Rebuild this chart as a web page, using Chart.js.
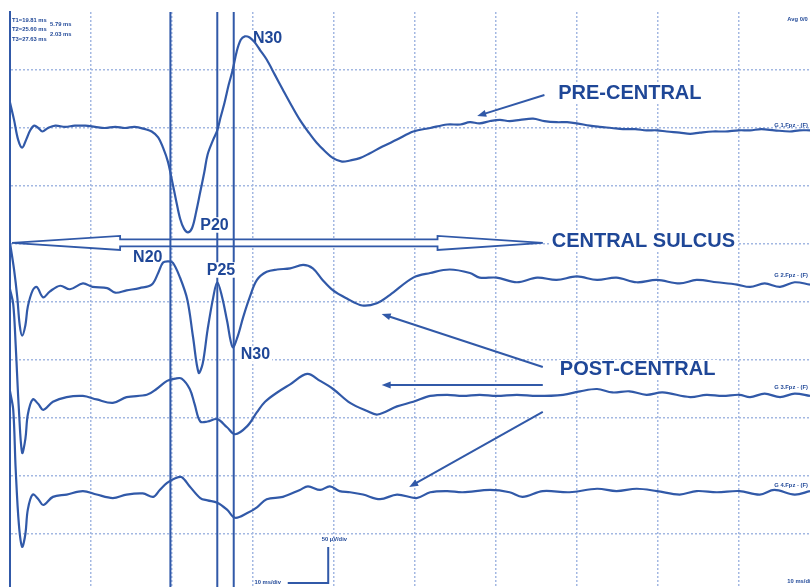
<!DOCTYPE html>
<html>
<head>
<meta charset="utf-8">
<script src="https://cdn.jsdelivr.net/npm/chart.js@4.4.1/dist/chart.umd.min.js"></script>
<style>
  html, body { margin: 0; padding: 0; background: #fff; }
  #wrap { width: 810px; height: 587px; position: relative; }
</style>
</head>
<body>
<div id="wrap"><canvas id="sep"></canvas></div>
<script>
// tiempos en ms, amplitudes en µV (positivo = hacia arriba en la traza)
var preTime = [0,0.5,1,1.5,2,2.5,3,3.5,4,4.7,5.6,6.8,8,9.3,10.5,11.7,13,14.2,15.4,16.7,17.5,18.3,18.9,19.5,20,20.5,21,21.5,22,22.5,23,23.5,24,24.4,25.1,25.6,26,26.5,27,27.5,28,28.5,29,29.6,30.2,30.9,31.7,32.7,33.7,34.8,35.8,36.8,37.9,38.9,39.9,41,42,43.2,44.4,46,47.8,49.8,51.9,54,55.6,56.8,58,59.3,60.5,61.7,63,64.6,66,67.5,68.8,70,71.6,72.8,74.3,75.7,77.2,78.6,79.9,81.1,82.7,84,85.2,86.8,88.3,90,91.4,92.8,94.4,96.3,97.5,98.8];
var preAmp = [22,7,-10,-17,-10,-2,2,0,-3,0,2,1,2,2,1,0,1,0,1,-1,-3,-8,-17,-29,-45,-62,-78,-87,-90,-86,-72,-55,-38,-23,-10,-2,9,22,37,50,66,76,79,78,74,67,59,46,33,19,7,-3,-13,-20,-26,-29,-28,-26,-22,-16,-10,-3,0,3,3,5,4,6,7,6,7,8,6,5,5,4,2,1,0,-1,-1,-2,-2,-3,-4,-5,-4,-3,-3,-2,-2,-1,-2,-3,-2,-2];

var post1Time = [0,0.5,0.9,1.2,1.5,1.9,2.2,2.8,3.3,4.1,4.9,6.2,7.4,9,10.2,12,13,14.4,16,17.5,18.3,18.9,19.5,20.1,21,21.9,22.6,23.3,23.8,24.4,25.1,25.6,26.2,26.8,27.5,28.1,28.8,29.6,30.5,31.7,33,34.6,36.2,37.4,38.6,39.9,41.6,43.5,45.3,46.9,49.8,51.9,54.3,56.8,58,60.1,62.6,65.1,67.5,70,72.5,74.9,77.4,79.9,82.7,84.8,87.3,89.8,91.4,93.2,95.1,96.9,98.8];
var post1Amp = [39,16,-8,-32,-41,-32,-16,-2,1,-8,-3,2,-1,4,1,0,-4,-2,0,3,13,22,23,22,9,-10,-42,-73,-65,-36,-8,5,-8,-28,-51,-42,-25,-8,7,14,16,17,20,17,7,-2,-9,-15,-13,-6,9,13,16,13,9,9,5,9,7,10,7,9,5,7,4,7,5,3,1,4,1,5,3];

var post2Time = [0,0.4,0.7,1.1,1.5,1.9,2.2,2.8,3.5,4.1,5.3,7,9,10.7,12.7,14.4,16.9,18.1,19.4,20.4,21.2,22.2,22.8,23.5,24.4,25.6,26.8,27.8,29.3,30.5,31.5,33,34.6,36.7,38.3,39.9,42,44.1,45.4,47.8,49.8,51.9,54,55.9,58,60.1,62.6,65.1,68.3,70.4,72.5,74.4,76.5,78.6,80.6,84,86,88,90.1,91.4,93.2,95.1,96.9,98.8];
var post2Amp = [95,82,47,-9,-46,-34,-13,0,-4,-9,-2,2,3,0,-3,2,4,9,16,18,18,9,-4,-19,-19,-17,-24,-30,-23,-11,-2,6,13,22,16,9,-3,-10,-13,-6,-2,3,4,3,4,3,4,3,4,7,9,6,7,4,6,2,4,3,4,2,5,2,5,3];

var post3Time = [0,0.4,0.7,1.1,1.5,1.9,2.2,2.8,3.5,4.1,5.3,7,9,10.7,12.7,14.4,16.4,17.7,18.5,19.4,20.4,21.2,22.2,23.5,24.4,25.6,26.8,27.8,29.3,30.5,31.7,33.7,35.8,36.8,38.3,39.5,40.7,42,43.6,45.7,47.8,50.2,51.9,54,55.9,59.3,61.7,63.3,65.8,69.1,72.5,74.9,77.4,79.9,82.7,84.8,87.3,90.1,92.6,94.4,96.9,98.8];
var post3Amp = [89,73,22,-26,-45,-34,-13,0,-4,-9,-2,0,3,0,-3,0,1,-2,4,10,14,15,7,-3,-5,-7,-13,-20,-16,-11,-4,-2,4,7,4,7,3,2,0,-4,0,-3,2,3,2,4,2,-2,3,2,5,3,5,3,0,3,2,3,0,4,0,3];

var channelNames = ['G 1.Fpz - (F)', 'G 2.Fpz - (F)', 'G 3.Fpz - (F)', 'G 4.Fpz - (F)'];
var channelOffset = [-100, -238, -334, -416];   // línea base de cada canal en el montaje (µV)
var cursorNames = ['T1', 'T2', 'T3'];
var cursorTimes = [19.81, 25.60, 27.63];

var xMax = 98.8;      // 10 ms/div
var yMin = -495.7;    // 50 µV/div

var azul = '#3159a8';
var azulTexto = '#1f4797';
var rejilla = '#a3b8e2';

function armarTraza(tiempos, amps, offset) {
    var n = Math.min(tiempos.length, amps.length);
    var puntos = [];
    for (var i = 0; i < n; i++) {
        puntos.push({ x: tiempos[i], y: amps[i] + offset });
    }
    return puntos;
}

var trazas = [
    armarTraza(preTime, preAmp, channelOffset[0]),
    armarTraza(post1Time, post1Amp, channelOffset[1]),
    armarTraza(post2Time, post2Amp, channelOffset[2]),
    armarTraza(post3Time, post3Amp, channelOffset[3])
];

// las trazas van encima (order 0), los cursores debajo (order 1)
var datasets = [];
trazas.forEach(function (d, i) {
    datasets.push({
        label: channelNames[i],
        data: d,
        borderColor: azul,
        borderWidth: 2.2,
        pointRadius: 0,
        tension: 0.35,
        order: 0
    });
});
var primerCursor = datasets.length;
cursorTimes.forEach(function (t, i) {
    datasets.push({
        label: cursorNames[i],
        data: [{ x: t, y: 0 }, { x: t, y: yMin }],
        borderColor: azul,
        borderWidth: 2,
        pointRadius: 0,
        order: 1
    });
});

var fuente = '"Liberation Sans", Arial, sans-serif';

function flecha(ctx, x1, y1, x2, y2) {
    var ang = Math.atan2(y2 - y1, x2 - x1);
    var largo = 9, ancho = 3.5;
    ctx.beginPath();
    ctx.moveTo(x1, y1);
    ctx.lineTo(x2 - Math.cos(ang) * largo * 0.8, y2 - Math.sin(ang) * largo * 0.8);
    ctx.stroke();
    ctx.beginPath();
    ctx.moveTo(x2, y2);
    ctx.lineTo(x2 - Math.cos(ang) * largo + Math.sin(ang) * ancho, y2 - Math.sin(ang) * largo - Math.cos(ang) * ancho);
    ctx.lineTo(x2 - Math.cos(ang) * largo - Math.sin(ang) * ancho, y2 - Math.sin(ang) * largo + Math.cos(ang) * ancho);
    ctx.closePath();
    ctx.fill();
}

function textoConFondo(ctx, txt, x, y, size) {
    ctx.font = 'bold ' + size + 'px ' + fuente;
    var w = ctx.measureText(txt).width;
    var cap = size * 0.72;
    ctx.fillStyle = '#fff';
    ctx.fillRect(x - 2, y - cap / 2 - 2, w + 4, cap + 4);
    ctx.fillStyle = azulTexto;
    ctx.textBaseline = 'middle';
    ctx.textAlign = 'left';
    ctx.fillText(txt, x, y + 0.5);
}

var etiquetas = [
    { text: 'N30', t: 30.0, v: -22.4, size: 16 },
    { text: 'P20', t: 23.5, v: -183.6, size: 16 },
    { text: 'N20', t: 15.2, v: -211.2, size: 16 },
    { text: 'P25', t: 24.3, v: -222.4, size: 16 },
    { text: 'N30', t: 28.5, v: -294.8, size: 16 },
    { text: 'PRE-CENTRAL', t: 67.7, v: -69.8, size: 20 },
    { text: 'CENTRAL SULCUS', t: 66.9, v: -197.4, size: 20 },
    { text: 'POST-CENTRAL', t: 67.9, v: -307.8, size: 20 }
];

var flechas = [
    [66.0, -71.6, 57.7, -89.7],
    [65.8, -306.0, 45.9, -260.3],
    [65.8, -321.6, 45.9, -321.6],
    [65.8, -344.8, 49.3, -409.5]
];

var anotaciones = {
    id: 'anotaciones',
    beforeDatasetsDraw: function (chart) {
        var ctx = chart.ctx, sx = chart.scales.x, sy = chart.scales.y;
        var px = function (t) { return sx.getPixelForValue(t); };
        var py = function (v) { return sy.getPixelForValue(v); };
        ctx.save();
        // flecha doble del surco central
        var yc = py(-199.1), hh = 7, sh = 3.5;
        var xl = px(0.25), xhl = px(13.6), xhr = px(52.8), xr = px(65.8);
        ctx.beginPath();
        ctx.moveTo(xl, yc);
        ctx.lineTo(xhl, yc - hh);
        ctx.lineTo(xhl, yc - sh);
        ctx.lineTo(xhr, yc - sh);
        ctx.lineTo(xhr, yc - hh);
        ctx.lineTo(xr, yc);
        ctx.lineTo(xhr, yc + hh);
        ctx.lineTo(xhr, yc + sh);
        ctx.lineTo(xhl, yc + sh);
        ctx.lineTo(xhl, yc + hh);
        ctx.closePath();
        ctx.fillStyle = '#fff';
        ctx.fill();
        ctx.strokeStyle = azul;
        ctx.lineWidth = 1.8;
        ctx.stroke();

        ctx.strokeStyle = azul;
        ctx.fillStyle = azul;
        ctx.lineWidth = 2;
        flechas.forEach(function (f) {
            flecha(ctx, px(f[0]), py(f[1]), px(f[2]), py(f[3]));
        });
        ctx.restore();
    },
    afterDatasetDraw: function (chart, args) {
        // etiquetas encima de los cursores pero debajo de las trazas
        if (args.index !== primerCursor) return;
        var ctx = chart.ctx, sx = chart.scales.x, sy = chart.scales.y;
        ctx.save();
        etiquetas.forEach(function (e) {
            textoConFondo(ctx, e.text, sx.getPixelForValue(e.t), sy.getPixelForValue(e.v), e.size);
        });
        ctx.restore();
    },
    afterDatasetsDraw: function (chart) {
        var ctx = chart.ctx, sx = chart.scales.x, sy = chart.scales.y;
        var px = function (t) { return sx.getPixelForValue(t); };
        var py = function (v) { return sy.getPixelForValue(v); };
        ctx.save();
        // textos pequeños del equipo
        ctx.fillStyle = azulTexto;
        ctx.textBaseline = 'middle';
        ctx.textAlign = 'left';
        ctx.font = 'bold 5.8px ' + fuente;
        cursorTimes.forEach(function (t, i) {
            ctx.fillText(cursorNames[i] + '=' + t.toFixed(2) + ' ms', px(0.25), 20 + i * 9.5);
        });
        for (var i = 1; i < cursorTimes.length; i++) {
            var d = cursorTimes[i] - cursorTimes[i - 1];
            ctx.fillText(d.toFixed(2) + ' ms', px(4.95), 20 + (i - 0.5) * 9.5);
        }
        ctx.fillText('Avg 0/0', px(96.0), py(-6));

        var labelV = [-97.4, -226.7, -323.3, -407.8];
        channelNames.forEach(function (n, i) {
            ctx.fillText(n, px(94.4), py(labelV[i]));
        });

        // barra de calibración
        ctx.strokeStyle = azul;
        ctx.lineWidth = 2;
        ctx.beginPath();
        ctx.moveTo(px(39.3), py(-461.2));
        ctx.lineTo(px(39.3), py(-492.2));
        ctx.lineTo(px(34.3), py(-492.2));
        ctx.stroke();
        ctx.fillText('50 \u00b5V/div', px(38.5), py(-454.3));
        ctx.fillText('10 ms/div', px(30.2), py(-491.4));
        ctx.fillText('10 ms/div', px(96.0), py(-490.5));
        ctx.restore();
    }
};

var ctx = document.getElementById('sep').getContext('2d');
var grafica = new Chart(ctx, {
    type: 'line',
    data: { datasets: datasets },
    options: {
        responsive: true,
        maintainAspectRatio: false,
        animation: false,
        layout: { padding: { left: 10, top: 12, right: 0, bottom: 0 } },
        plugins: {
            legend: { display: false },
            tooltip: { enabled: false }
        },
        scales: {
            x: {
                type: 'linear',
                min: 0,
                max: xMax,
                ticks: { display: false, stepSize: 10 },
                grid: {
                    drawTicks: false,
                    lineWidth: 1.5,
                    color: function (c) {
                        return (c.tick && c.tick.value % 10 === 0 && c.tick.value !== 0) ? rejilla : 'rgba(0,0,0,0)';
                    }
                },
                border: { display: false, dash: [2, 2] }
            },
            y: {
                type: 'linear',
                min: yMin,
                max: 0,
                ticks: { display: false, stepSize: 50 },
                grid: {
                    drawTicks: false,
                    lineWidth: 1.5,
                    color: function (c) {
                        return (c.tick && c.tick.value % 50 === 0 && c.tick.value !== 0) ? rejilla : 'rgba(0,0,0,0)';
                    }
                },
                border: { display: true, color: azul, width: 2, dash: [2, 2] }
            }
        }
    },
    plugins: [anotaciones]
});
</script>
</body>
</html>
